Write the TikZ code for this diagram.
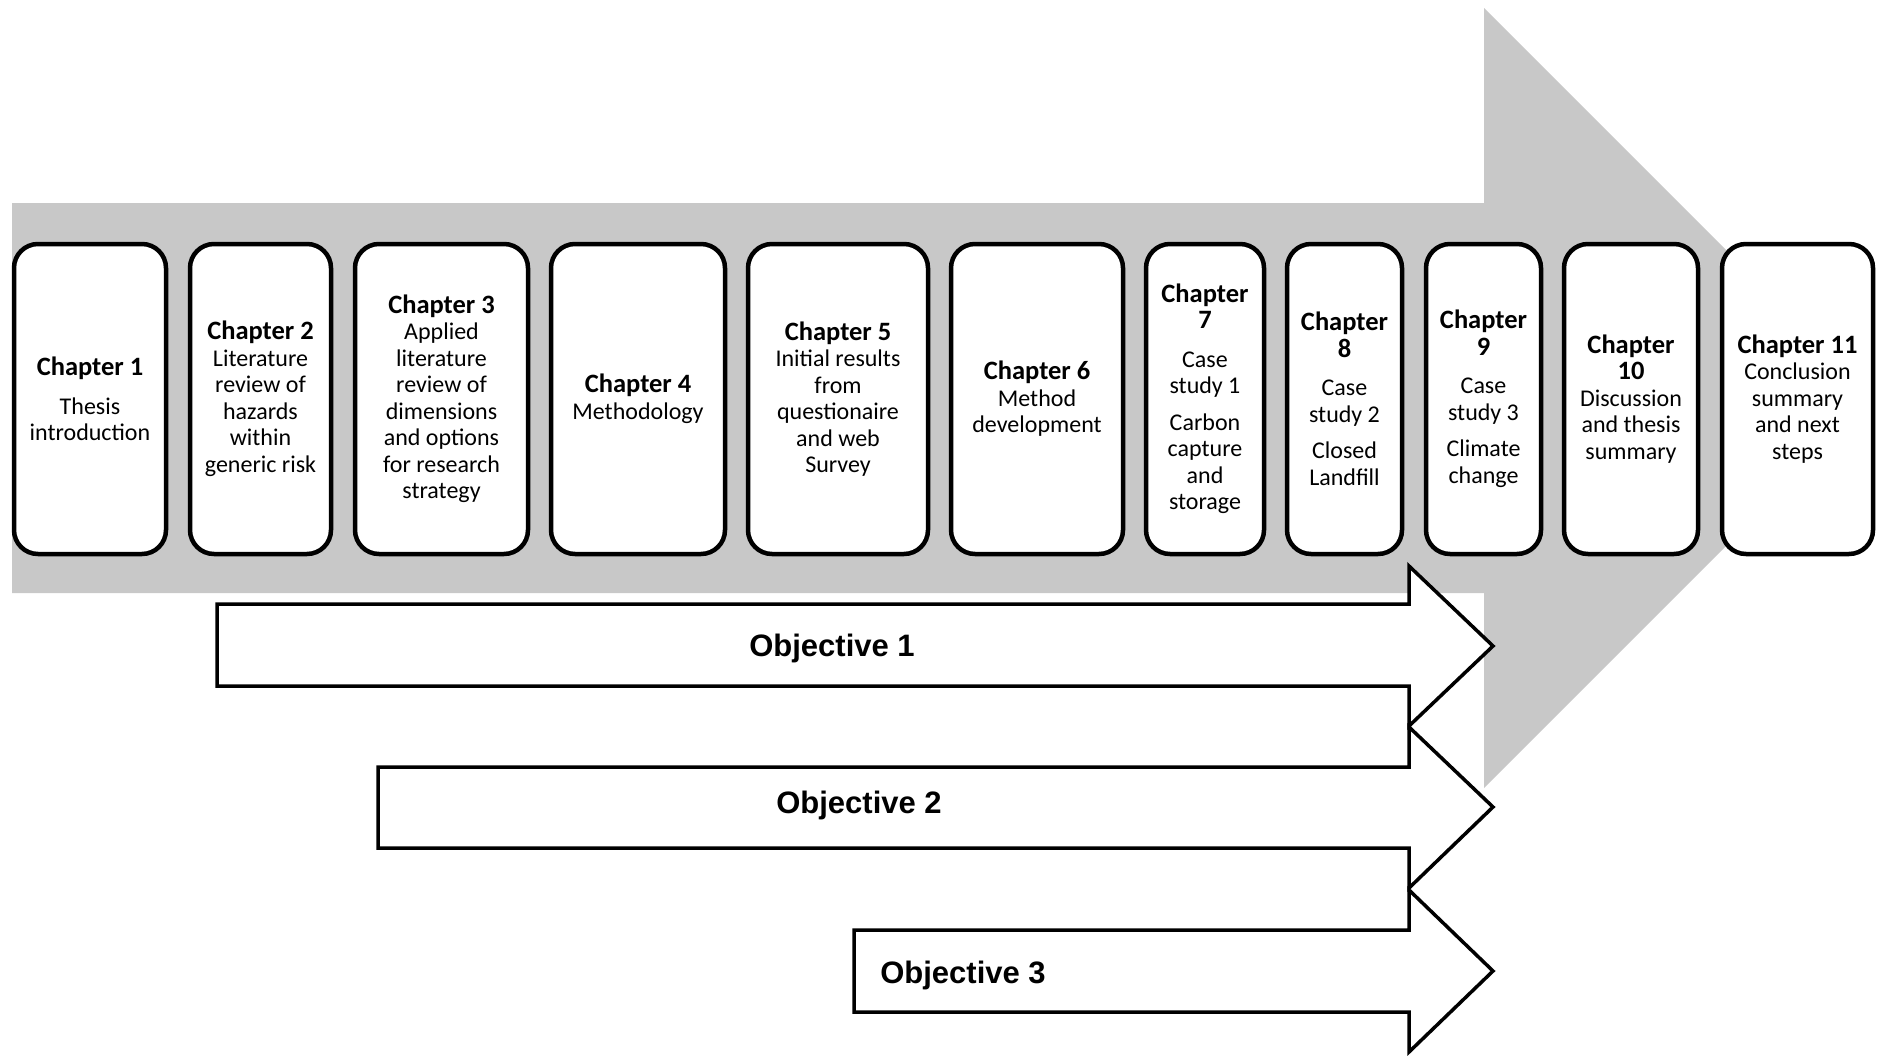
\documentclass[tikz,border=0pt]{standalone}
\usepackage{fontspec}
\setmainfont{Carlito}
\newfontfamily\arialfont{Liberation Sans}
\definecolor{flowgray}{RGB}{200,200,200}
\newcommand\chaphead[1]{{\fontsize{26.5}{26.5}\selectfont\bfseries #1}}
\begin{document}
\begin{tikzpicture}[x=1pt,y=-1pt,
  chap/.style={draw=black, line width=4.5pt, rounded corners=24pt, fill=white,
    align=center, minimum height=310pt, inner sep=2pt, outer sep=0pt,
    font=\fontsize{24}{26.5}\selectfont},
  objarrow/.style={draw=black, line width=3.5pt, fill=white, line join=miter},
  objlabel/.style={font=\arialfont\bfseries\fontsize{31}{36}\selectfont, inner sep=0pt}
]
\useasboundingbox (0,0) rectangle (1887,1055);

% broad background arrow
\fill[flowgray] (12,203) -- (1484,203) -- (1484,8) -- (1874,398)
  -- (1484,788) -- (1484,593) -- (12,593) -- cycle;

% chapter boxes
\node[chap, minimum width=152pt] (c1) at (90,399)
  {\chaphead{Chapter 1}\\[12pt]Thesis\\introduction};
\node[chap, minimum width=141pt] (c2) at (260.5,399)
  {\chaphead{Chapter 2}\\Literature\\review of\\hazards\\within\\generic risk};
\node[chap, minimum width=173pt] (c3) at (441.5,399)
  {\chaphead{Chapter 3}\\Applied\\literature\\review of\\dimensions\\and options\\for research\\strategy};
\node[chap, minimum width=174pt] (c4) at (638,399)
  {\chaphead{Chapter 4}\\Methodology};
\node[chap, minimum width=180pt] (c5) at (838,399)
  {\chaphead{Chapter 5}\\Initial results\\from\\questionaire\\and web\\Survey};
\node[chap, minimum width=172pt] (c6) at (1037,399)
  {\chaphead{Chapter 6}\\Method\\development};
\node[chap, minimum width=118pt] (c7) at (1205,399)
  {\chaphead{Chapter}\\\chaphead{7}\\[12pt]Case\\study 1\\[10pt]Carbon\\capture\\and\\storage};
\node[chap, minimum width=115pt] (c8) at (1344.5,399)
  {\chaphead{Chapter}\\\chaphead{8}\\[12pt]Case\\study 2\\[10pt]Closed\\Landfill};
\node[chap, minimum width=115pt] (c9) at (1483.5,399)
  {\chaphead{Chapter}\\\chaphead{9}\\[12pt]Case\\study 3\\[10pt]Climate\\change};
\node[chap, minimum width=134pt] (c10) at (1631,399)
  {\chaphead{Chapter}\\\chaphead{10}\\Discussion\\and thesis\\summary};
\node[chap, minimum width=151pt] (c11) at (1797.5,399)
  {\chaphead{Chapter 11}\\Conclusion\\summary\\and next\\steps};

% objective arrows
\draw[objarrow] (217,604) -- (1409,604) -- (1409,566) -- (1493,646)
  -- (1409,726) -- (1409,686) -- (217,686) -- cycle;
\node[objlabel] (o1) at (832,648) {Objective 1};

\draw[objarrow] (378,767) -- (1409,767) -- (1409,727) -- (1493,807)
  -- (1409,888) -- (1409,848) -- (378,848) -- cycle;
\node[objlabel] (o2) at (859,805) {Objective 2};

\draw[objarrow] (854,930) -- (1409,930) -- (1409,890) -- (1493,971)
  -- (1409,1052) -- (1409,1012) -- (854,1012) -- cycle;
\node[objlabel] (o3) at (963,975) {Objective 3};
\end{tikzpicture}
\end{document}
